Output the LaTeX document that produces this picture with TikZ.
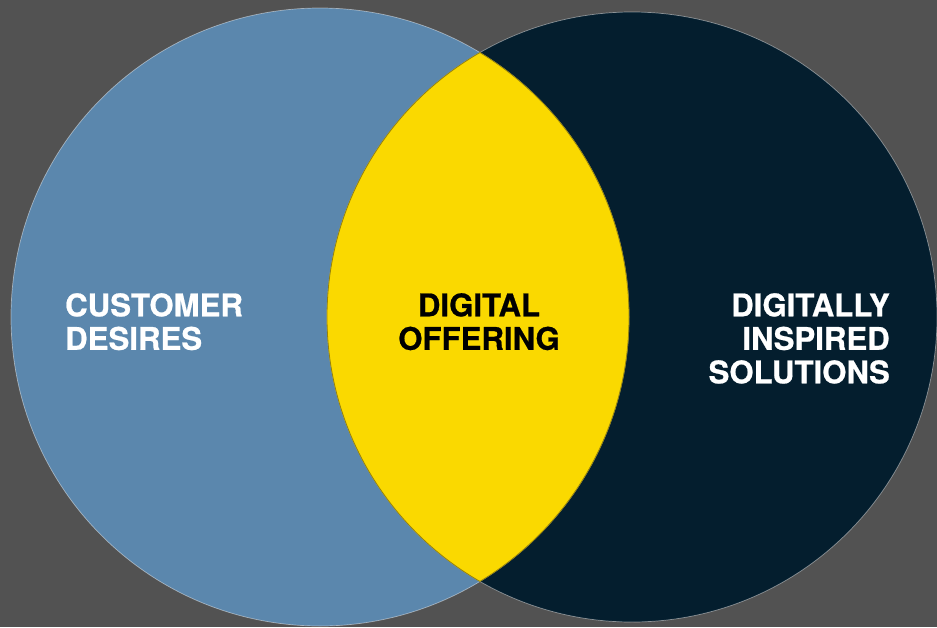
\documentclass[tikz,border=0pt]{standalone}
\usepackage{fontspec}
\setmainfont{TeX Gyre Heros}
\newfontfamily\labelfont[BoldFeatures={FakeBold=0.7}]{TeX Gyre Heros}
\definecolor{bggray}{RGB}{82,82,82}
\definecolor{desireblue}{RGB}{91,135,173}
\definecolor{solnavy}{RGB}{4,30,46}
\definecolor{offeryellow}{RGB}{250,217,0}
\definecolor{lensrim}{RGB}{150,130,10}
\tikzset{
  labeltext/.style={inner sep=0pt, font=\labelfont\bfseries\fontsize{31.2}{33.5}\selectfont},
  rim/.style={draw=white, draw opacity=0.45, line width=0.7pt},
}
\begin{document}
\begin{tikzpicture}[x=1pt, y=-1pt]
  \useasboundingbox (0,0) rectangle (937,627);
  \fill[bggray] (0,0) rectangle (937,627);

  % the two sets
  \coordinate (cl) at (320,317);
  \coordinate (cr) at (632,317);
  \fill[desireblue] (cl) circle[radius=309pt];
  \fill[solnavy] (cr) circle[radius=305pt];
  \draw[rim] (cl) circle[radius=309pt];
  \draw[rim] (cr) circle[radius=305pt];

  % their intersection
  \begin{scope}
    \clip (cl) circle[radius=309pt];
    \fill[offeryellow] (cr) circle[radius=305pt];
    \draw[lensrim, line width=0.8pt] (cr) circle[radius=305pt];
  \end{scope}
  \begin{scope}
    \clip (cr) circle[radius=305pt];
    \draw[lensrim, line width=0.8pt] (cl) circle[radius=309pt];
  \end{scope}

  % labels
  \node[labeltext, text=white, align=left, anchor=north west] (desires) at (65,293)
    {CUSTOMER\\DESIRES};
  \node[labeltext, text=black, align=center, anchor=north] (offering) at (479,293)
    {DIGITAL\\OFFERING};
  \node[labeltext, text=white, align=right, anchor=north east] (solutions) at (890,293)
    {DIGITALLY\\INSPIRED\\SOLUTIONS};
\end{tikzpicture}
\end{document}
